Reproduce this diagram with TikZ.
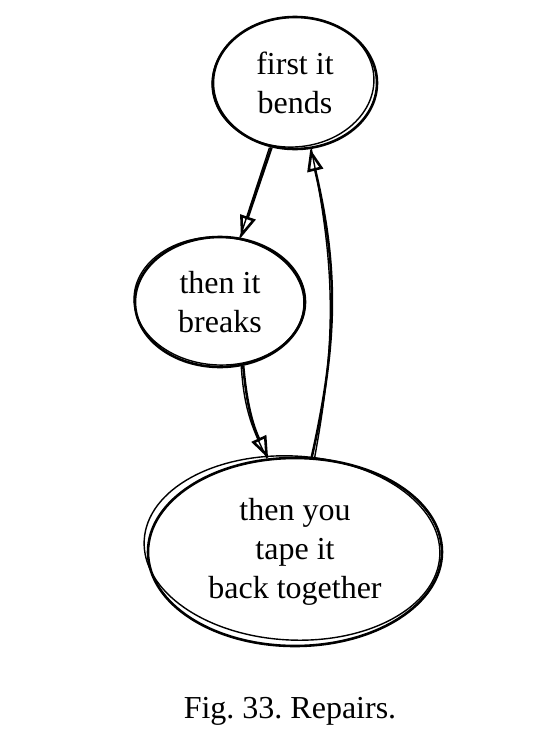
\documentclass[tikz,border=0pt]{standalone}
\usepackage{fontspec}
\setmainfont{Liberation Serif}
\usetikzlibrary{shapes.geometric, arrows.meta}
\frenchspacing

\tikzset{
  bubble/.style={ellipse, draw, line width=2.6pt, inner sep=0pt, align=center,
    font=\fontsize{32}{39}\selectfont},
  pen/.style={line width=1.4pt},
  arr/.style={line width=2.5pt, -{Triangle[open, length=22pt, width=16pt, line width=2.6pt]}},
}

\begin{document}
\begin{tikzpicture}[x=1pt, y=-1pt]
  \useasboundingbox (0,0) rectangle (542,742);
  \node[bubble, minimum width=164pt, minimum height=132pt] (bends) at (295,83) {first it\\bends};
  \node[bubble, minimum width=170pt, minimum height=130pt] (breaks) at (220,302) {then it\\breaks};
  \node[bubble, minimum width=294pt, minimum height=188pt] (tape) at (295,552) {then you\\tape it\\back together};
  % second pen strokes
  \draw[pen] ([shift={(-2,-1)}]bends.center) ellipse [x radius=81, y radius=65, rotate=4];
  \draw[pen] ([shift={(-1,-1)}]breaks.center) ellipse [x radius=85, y radius=64, rotate=-3];
  \draw[pen] ([shift={(-3,-4)}]tape.center) ellipse [x radius=148, y radius=92, rotate=-3];
  % connectors
  \draw[arr] (bends.250) -- (breaks.72);
  \draw[pen] ([xshift=-2pt]bends.250) -- ([xshift=-1pt]breaks.72);
  \draw[arr] (breaks.290) to[bend right=10] (tape.106);
  \draw[pen] ([xshift=-2pt]breaks.290) to[bend right=12] ([xshift=-1pt]tape.106);
  \draw[arr] (tape.80) to[bend right=13] (bends.283);
  \draw[pen] ([xshift=3pt]tape.80) to[bend right=11] ([xshift=1pt]bends.283);
  \node[font=\fontsize{32}{39}\selectfont] (caption) at (290,711) {Fig. 33. Repairs.};
\end{tikzpicture}
\end{document}
